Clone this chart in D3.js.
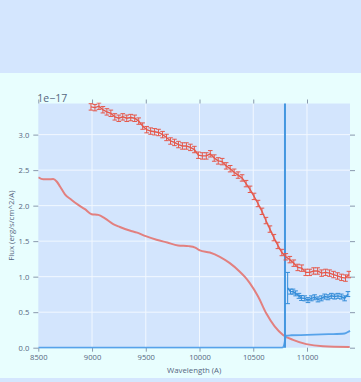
<!DOCTYPE html>
<html>
<head>
<meta charset="utf-8">
<script src="https://cdn.jsdelivr.net/npm/d3@7"></script>
<style>
  html, body { margin: 0; padding: 0; background: #d4e6fe; }
  svg { display: block; }
  text { font-family: "Open Sans", "DejaVu Sans", sans-serif; }
</style>
</head>
<body>
<svg id="chart" width="361" height="382"></svg>
<script>
// Observed spectrum (units of 1e-17 erg/s/cm^2/A)
const obsWave = [8990, 9027, 9064, 9101, 9138, 9175, 9212, 9249, 9286, 9323, 9360, 9397, 9434, 9471, 9508, 9545,
  9582, 9619, 9656, 9693, 9730, 9767, 9804, 9841, 9878, 9915, 9952, 9989, 10026, 10063, 10100, 10137, 10174,
  10211, 10248, 10285, 10322, 10359, 10396, 10433, 10470, 10507, 10544, 10581, 10618, 10655, 10692, 10729,
  10766, 10803, 10840, 10877, 10914, 10951, 10988, 11025, 11062, 11099, 11136, 11173, 11210, 11247, 11284,
  11321, 11358, 11390];
const obsFlux = [3.39, 3.38, 3.40, 3.35, 3.32, 3.30, 3.25, 3.23, 3.25, 3.23, 3.24, 3.23, 3.19, 3.12, 3.07, 3.05,
  3.04, 3.03, 3.00, 2.96, 2.91, 2.89, 2.86, 2.84, 2.84, 2.82, 2.79, 2.71, 2.70, 2.70, 2.73, 2.67, 2.63,
  2.62, 2.56, 2.52, 2.47, 2.43, 2.39, 2.31, 2.23, 2.13, 2.03, 1.92, 1.79, 1.67, 1.55, 1.44,
  1.34, 1.28, 1.24, 1.19, 1.13, 1.12, 1.06, 1.06, 1.08, 1.08, 1.05, 1.06, 1.05, 1.03, 1.01,
  0.99, 0.98, 1.03];
const obsErr = 0.045;

// Second-arm spectrum
const armWave = [10820, 10846, 10870, 10894, 10925, 10948, 10979, 11009, 11040, 11071, 11102, 11133, 11164,
  11195, 11226, 11257, 11288, 11319, 11350, 11381];
const armFlux = [0.84, 0.79, 0.79, 0.765, 0.73, 0.70, 0.695, 0.67, 0.695, 0.71, 0.68, 0.695, 0.72,
  0.71, 0.73, 0.72, 0.73, 0.72, 0.695, 0.755];
const armErr = [0.22, 0.035, 0.035, 0.035, 0.035, 0.035, 0.035, 0.035, 0.035, 0.035, 0.035, 0.035, 0.035,
  0.035, 0.035, 0.035, 0.035, 0.035, 0.035, 0.035];

// Model spectrum
const modelWave = [8500, 8546, 8593, 8639, 8671, 8702, 8748, 8810, 8872, 8934, 8996, 9058, 9120, 9197, 9259,
  9350, 9420, 9500, 9600, 9700, 9800, 9900, 9960, 10003, 10096, 10189, 10282, 10375, 10420, 10468, 10545,
  10622, 10699, 10777, 10870, 10994, 11149, 11397];
const modelFlux = [2.40, 2.37, 2.37, 2.375, 2.34, 2.27, 2.16, 2.08, 2.01, 1.95, 1.88, 1.87, 1.82, 1.74, 1.70,
  1.65, 1.62, 1.57, 1.52, 1.48, 1.44, 1.43, 1.41, 1.37, 1.34, 1.28, 1.19, 1.07, 1.00, 0.91, 0.72,
  0.48, 0.30, 0.18, 0.11, 0.05, 0.02, 0.01];

// Coverage curve
const coverWave = [8500, 10770, 10785, 10795, 10805, 10850, 11000, 11200, 11350, 11380, 11400];
const coverFlux = [0, 0, 0.03, 0.10, 0.17, 0.175, 0.18, 0.19, 0.20, 0.22, 0.24];

// Dichroic boundary
const splitWave = 10795;

const xTicks = [8500, 9000, 9500, 10000, 10500, 11000];
const yTicks = [0, 0.5, 1.0, 1.5, 2.0, 2.5, 3.0];
const xDomain = [8500, 11400];
const yDomain = [0, 3.438];

const W = 361, H = 382;
const plot = { left: 38.3, right: 350, top: 103.5, bottom: 347.7 };
const textColor = "#56667e";
const tickColor = "#8a99ad";

const svg = d3.select("#chart");

// figure background
svg.append("rect").attr("x", 0).attr("y", 73).attr("width", W).attr("height", 305).attr("fill", "#e8fefe");
svg.append("rect").attr("x", plot.left).attr("y", plot.top)
  .attr("width", plot.right - plot.left).attr("height", plot.bottom - plot.top).attr("fill", "#d3e5fd");

const x = d3.scaleLinear().domain(xDomain).range([plot.left, plot.right]);
const y = d3.scaleLinear().domain(yDomain).range([plot.bottom, plot.top]);

// grid
const grid = svg.append("g");
grid.selectAll("line.gx").data(xTicks.slice(1)).join("line")
  .attr("x1", d => x(d)).attr("x2", d => x(d)).attr("y1", plot.top).attr("y2", plot.bottom)
  .attr("stroke", "#f2f8ff").attr("stroke-width", 1);
grid.selectAll("line.gy").data(yTicks.slice(1)).join("line")
  .attr("y1", d => y(d)).attr("y2", d => y(d)).attr("x1", plot.left).attr("x2", plot.right)
  .attr("stroke", "#f2f8ff").attr("stroke-width", 1);

function styleAxis(g, showLabels) {
  g.select(".domain").remove();
  g.selectAll(".tick line").attr("stroke", tickColor).attr("stroke-width", 1);
  g.selectAll(".tick text").attr("fill", textColor).attr("font-size", 7.6);
  if (!showLabels) g.selectAll(".tick text").remove();
}

svg.append("g").attr("transform", `translate(0,${plot.bottom})`)
  .call(d3.axisBottom(x).tickValues(xTicks).tickFormat(d3.format("d")).tickSize(4).tickPadding(3))
  .call(g => styleAxis(g, true));
svg.append("g").attr("transform", `translate(0,${plot.top})`)
  .call(d3.axisTop(x).tickValues(xTicks).tickSize(4))
  .call(g => styleAxis(g, false));
svg.append("g").attr("transform", `translate(${plot.left},0)`)
  .call(d3.axisLeft(y).tickValues(yTicks).tickFormat(d3.format(".1f")).tickSize(5).tickPadding(4))
  .call(g => styleAxis(g, true));
svg.append("g").attr("transform", `translate(${plot.right},0)`)
  .call(d3.axisRight(y).tickValues(yTicks).tickSize(5))
  .call(g => styleAxis(g, false));

// axis titles and exponent
svg.append("text").attr("x", (plot.left + plot.right) / 2).attr("y", 373)
  .attr("text-anchor", "middle").attr("font-size", 7.8).attr("fill", textColor).text("Wavelength (A)");
svg.append("text").attr("transform", `translate(13.5,${(plot.top + plot.bottom) / 2}) rotate(-90)`)
  .attr("text-anchor", "middle").attr("font-size", 7.8).attr("fill", textColor).text("Flux (erg/s/cm^2/A)");
svg.append("text").attr("x", plot.left - 1).attr("y", 101.5)
  .attr("font-size", 10.5).attr("fill", textColor).text("1e\u221217");

svg.append("clipPath").attr("id", "plotclip").append("rect")
  .attr("x", plot.left).attr("y", plot.top - 1)
  .attr("width", plot.right - plot.left + 1).attr("height", plot.bottom - plot.top + 2);
const layer = svg.append("g").attr("clip-path", "url(#plotclip)");

const zip = (a, b) => a.map((v, i) => [v, b[i]]);

// model
layer.append("path").datum(zip(modelWave, modelFlux))
  .attr("d", d3.line().x(d => x(d[0])).y(d => y(d[1])).curve(d3.curveMonotoneX))
  .attr("fill", "none").attr("stroke", "#e2807f").attr("stroke-width", 2);

// coverage
layer.append("path").datum(zip(coverWave, coverFlux))
  .attr("d", d3.line().x(d => x(d[0])).y(d => y(d[1])).curve(d3.curveMonotoneX))
  .attr("fill", "none").attr("stroke", "#57a3ea").attr("stroke-width", 1.8);

// boundary
layer.append("line").attr("x1", x(splitWave)).attr("x2", x(splitWave))
  .attr("y1", plot.top).attr("y2", plot.bottom)
  .attr("stroke", "#4497e0").attr("stroke-width", 2);

function errorSeries(waves, flux, errs, color) {
  const g = layer.append("g");
  const pts = waves.map((w, i) => ({ w, f: flux[i], e: Array.isArray(errs) ? errs[i] : errs }));
  g.append("path").datum(pts)
    .attr("d", d3.line().x(d => x(d.w)).y(d => y(d.f)))
    .attr("fill", "none").attr("stroke", color).attr("stroke-width", 1.4);
  const bars = g.selectAll("g.eb").data(pts).join("g").attr("stroke", color).attr("stroke-width", 1);
  bars.append("line").attr("x1", d => x(d.w)).attr("x2", d => x(d.w))
    .attr("y1", d => y(d.f - d.e)).attr("y2", d => y(d.f + d.e));
  bars.append("line").attr("x1", d => x(d.w) - 2.3).attr("x2", d => x(d.w) + 2.3)
    .attr("y1", d => y(d.f + d.e)).attr("y2", d => y(d.f + d.e));
  bars.append("line").attr("x1", d => x(d.w) - 2.3).attr("x2", d => x(d.w) + 2.3)
    .attr("y1", d => y(d.f - d.e)).attr("y2", d => y(d.f - d.e));
}

errorSeries(obsWave, obsFlux, obsErr, "#e5584b");
errorSeries(armWave, armFlux, armErr, "#358dd8");
</script>
</body>
</html>
